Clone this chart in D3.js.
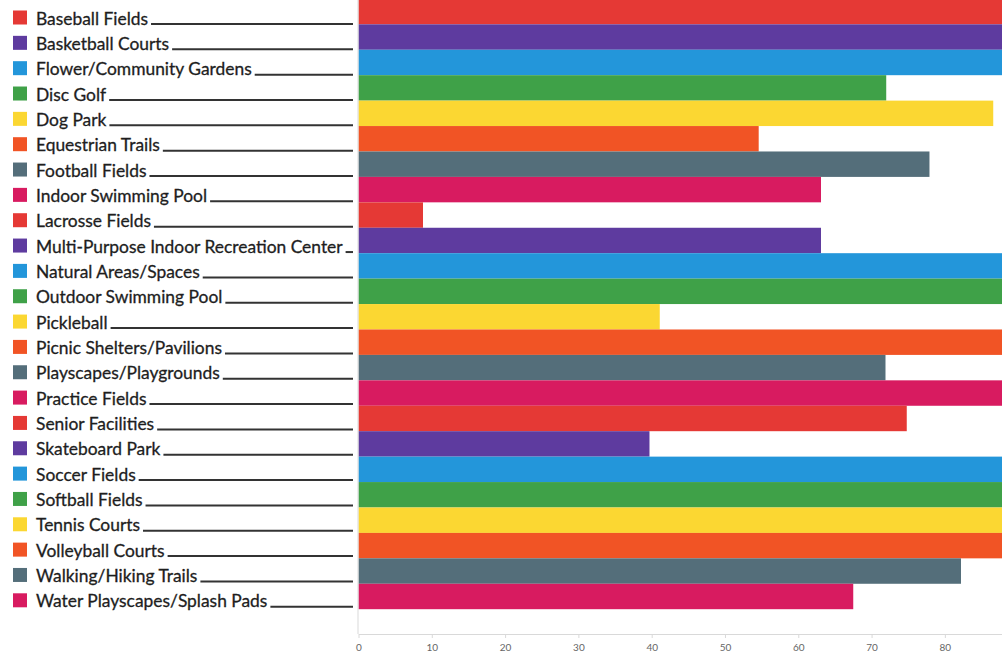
<!DOCTYPE html>
<html>
<head>
<meta charset="utf-8">
<script src="https://cdn.jsdelivr.net/npm/d3@7"></script>
<style>
  html, body { margin: 0; padding: 0; background: #fff; }
  svg { display: block; }
</style>
</head>
<body>
<svg id="chart" width="1002" height="657"></svg>
<script>
const categories = [
  "Baseball Fields", "Basketball Courts", "Flower/Community Gardens", "Disc Golf",
  "Dog Park", "Equestrian Trails", "Football Fields", "Indoor Swimming Pool",
  "Lacrosse Fields", "Multi-Purpose Indoor Recreation Center", "Natural Areas/Spaces",
  "Outdoor Swimming Pool", "Pickleball", "Picnic Shelters/Pavilions",
  "Playscapes/Playgrounds", "Practice Fields", "Senior Facilities", "Skateboard Park",
  "Soccer Fields", "Softball Fields", "Tennis Courts", "Volleyball Courts",
  "Walking/Hiking Trails", "Water Playscapes/Splash Pads"
];
// values beyond ~88 run off the right edge of the visible chart
const values = [
  95, 95, 95, 72.0,
  86.6, 54.6, 77.9, 63.1,
  8.8, 63.1, 95,
  95, 41.1, 95,
  71.9, 95, 74.8, 39.7,
  95, 95, 95, 95,
  82.2, 67.5
];
const palette = ["#E53935", "#5E3B9F", "#2396DA", "#3FA148", "#FBD732", "#F15425", "#546E7A", "#D81B60"];
const tickValues = [0, 10, 20, 30, 40, 50, 60, 70, 80];

const svg = d3.select("#chart");
const W = 1002, H = 657;

const x = d3.scaleLinear().domain([0, 88]).range([358.5, 1003.5]);
const y = d3.scaleBand().domain(categories).range([-1.1, 609.2]).padding(0);
const yLeg = d3.scaleLinear().domain([0, categories.length - 1]).range([24.5, 607.3]);
const color = d3.scaleOrdinal().domain(categories).range(palette);

svg.append("defs").append("clipPath").attr("id", "clip")
  .append("rect").attr("x", 0).attr("y", 0).attr("width", W).attr("height", H);

// bars
svg.append("g").attr("clip-path", "url(#clip)")
  .selectAll("rect").data(categories).join("rect")
  .attr("x", x(0))
  .attr("y", d => y(d))
  .attr("width", (d, i) => x(values[i]) - x(0))
  .attr("height", y.bandwidth())
  .attr("fill", d => color(d));

// axes
const axisY = 634;
svg.append("line")
  .attr("x1", x(0) - 0.5).attr("x2", x(0) - 0.5)
  .attr("y1", 0).attr("y2", axisY)
  .attr("stroke", "#d9d9d9").attr("stroke-width", 1);

const xAxis = svg.append("g")
  .attr("transform", `translate(0,${axisY})`)
  .call(d3.axisBottom(x).tickValues(tickValues).tickSize(4).tickSizeOuter(0).tickPadding(6));
xAxis.select(".domain").attr("stroke", "#d9d9d9");
xAxis.selectAll(".tick line").attr("stroke", "#d9d9d9");
xAxis.selectAll(".tick text")
  .attr("fill", "#666")
  .style("font-family", "Lato, 'DejaVu Sans', sans-serif")
  .style("font-size", "10px");

// legend
const leg = svg.append("g");
const rows = leg.selectAll("g").data(categories).join("g")
  .attr("transform", (d, i) => `translate(0,${yLeg(i)})`);
rows.append("rect")
  .attr("x", 13).attr("y", -14).attr("width", 14).attr("height", 14)
  .attr("fill", d => color(d));
const texts = rows.append("text")
  .attr("x", 36).attr("y", 0)
  .attr("fill", "#1e1e1e")
  .attr("stroke", "#1e1e1e")
  .attr("stroke-width", 0.3)
  .style("font-family", "Lato, 'Open Sans', sans-serif")
  .style("font-size", "17.4px")
  .text(d => d);
texts.each(function() {
  const w = this.getComputedTextLength();
  d3.select(this.parentNode).append("line")
    .attr("x1", 36 + w + 3).attr("x2", 353)
    .attr("y1", -0.5).attr("y2", -0.5)
    .attr("stroke", "#333").attr("stroke-width", 2);
});
</script>
</body>
</html>
